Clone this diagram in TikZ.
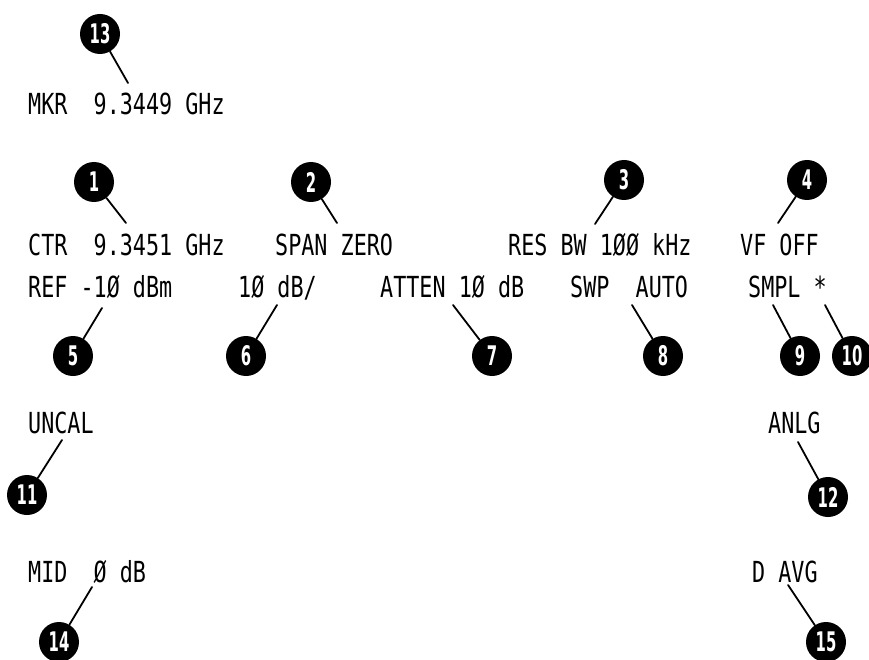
\documentclass[tikz,border=0pt]{standalone}
\usepackage{fontspec}
\newfontfamily\crtfont[FakeStretch=0.75]{DejaVu Sans Mono}
\newfontfamily\numfont[FakeStretch=0.55]{DejaVu Sans}
\begin{document}
\begin{tikzpicture}[x=1pt,y=-1pt,
  lbl/.style={anchor=base west, inner sep=0pt, font=\crtfont\fontsize{29}{32}\selectfont},
  num/.style={circle, fill=black, minimum size=40pt, inner sep=0pt, text=white,
              font=\numfont\bfseries\fontsize{27}{28}\selectfont},
  lead/.style={line width=1.8pt, line cap=round}]
\useasboundingbox (0,0) rectangle (869,660);

% texts
\node[lbl] (mkr)   at (28,115)  {MKR~~9.3449~GHz};
\node[lbl] (ctr)   at (28,255)  {CTR~~9.3451~GHz};
\node[lbl] (span)  at (275,255) {SPAN~ZERO};
\node[lbl] (res)   at (508,255) {RES~BW~1ØØ~kHz};
\node[lbl] (vf)    at (740,255) {VF~OFF};
\node[lbl] (ref)   at (28,297)  {REF~-1Ø~dBm};
\node[lbl] (scale) at (238,297) {1Ø~dB/};
\node[lbl] (atten) at (380,297) {ATTEN~1Ø~dB};
\node[lbl] (swp)   at (570,297) {SWP~~AUTO};
\node[lbl] (smpl)  at (748,297) {SMPL~*};
\node[lbl] (uncal) at (28,433)  {UNCAL};
\node[lbl] (anlg)  at (768,433) {ANLG};
\node[lbl] (mid)   at (28,582)  {MID~~Ø~dB};
\node[lbl] (davg)  at (752,582) {D~AVG};

% callout circles
\node[num] (c13) at (100,34)  {13};
\node[num] (c1)  at (94,182)  {1};
\node[num] (c2)  at (311,182) {2};
\node[num] (c3)  at (624,180) {3};
\node[num] (c4)  at (807,180) {4};
\node[num] (c5)  at (73,356)  {5};
\node[num] (c6)  at (246,356) {6};
\node[num] (c7)  at (492,356) {7};
\node[num] (c8)  at (663,356) {8};
\node[num] (c9)  at (800,356) {9};
\node[num] (c10) at (852,356) {10};
\node[num] (c11) at (27,495)  {11};
\node[num] (c12) at (828,497) {12};
\node[num] (c14) at (59,642)  {14};
\node[num] (c15) at (826,642) {15};

% leader end points
\coordinate (t13) at (128,83);
\coordinate (t1)  at (126,223);
\coordinate (t2)  at (337,223);
\coordinate (t3)  at (595,224);
\coordinate (t4)  at (778,223);
\coordinate (t5)  at (102,308);
\coordinate (t6)  at (277,305);
\coordinate (t7)  at (453,305);
\coordinate (t8)  at (632,305);
\coordinate (t9)  at (773,305);
\coordinate (t10) at (825,305);
\coordinate (t11) at (62,440);
\coordinate (t12) at (798,442);
\coordinate (t14) at (92,587);
\coordinate (t15) at (788,585);

\foreach \n in {13,1,2,3,4,5,6,7,8,9,10,11,12,14,15}
  \draw[lead] (c\n) -- (t\n);
\end{tikzpicture}
\end{document}
